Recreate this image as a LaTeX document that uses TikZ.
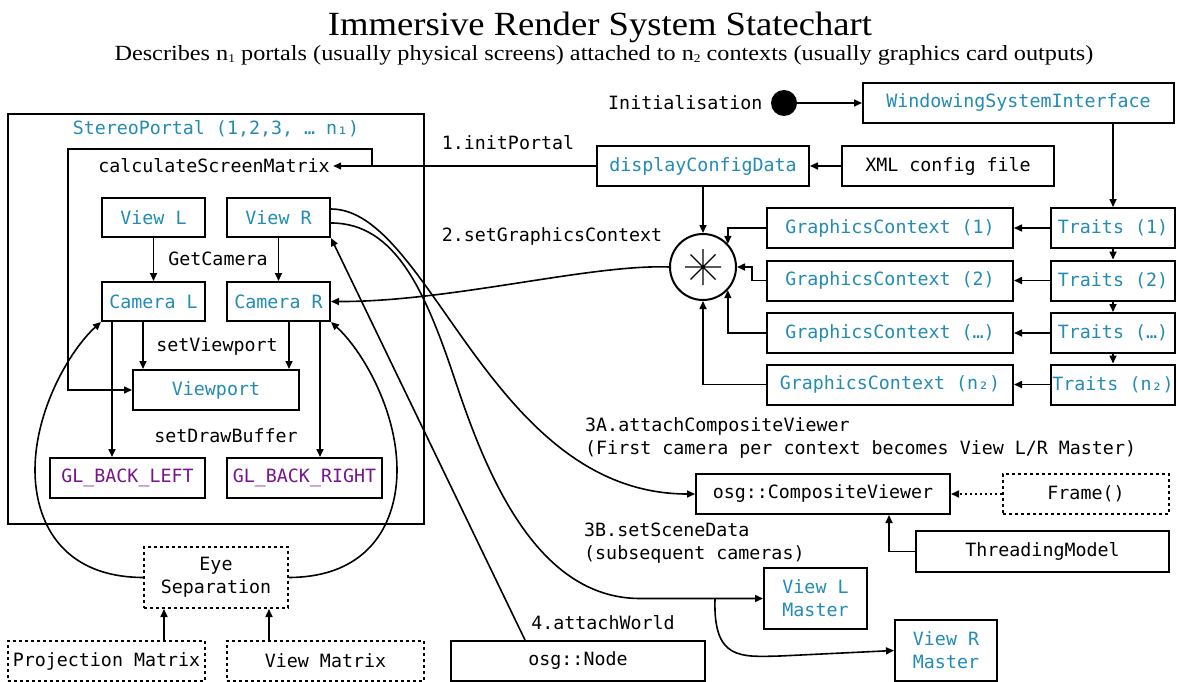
\documentclass[tikz,border=0pt]{standalone}
\usepackage{fontspec}
\setmainfont{Liberation Serif}
\setmonofont{DejaVu Sans Mono}
\usetikzlibrary{arrows.meta,calc}
\definecolor{clsblue}{RGB}{35,140,180}
\definecolor{bufpurple}{RGB}{120,20,140}
\newcommand{\lowidx}[1]{\raisebox{-1.5pt}{\fontsize{11}{11}\selectfont #1}}

\begin{document}
\begin{tikzpicture}[x=1pt,y=-1pt,
  font=\ttfamily\fontsize{18.3}{23}\selectfont,
  box/.style={draw, line width=2pt, inner sep=0pt, align=center},
  dbox/.style={box, dash pattern=on 3pt off 3pt},
  cls/.style={text=clsblue},
  buf/.style={text=bufpurple},
  link/.style={line width=1.6pt},
  arr/.style={link, -{Triangle[length=8pt,width=7pt]}},
]
\fill[white] (0,0) rectangle (1178,682);
\useasboundingbox (0,0) rectangle (1178,682);

% headings
\node[anchor=base, font=\rmfamily, inner sep=0pt] (title) at (600,36)
  {\resizebox{544pt}{23.5pt}{\fontsize{30}{30}\selectfont Immersive Render System Statechart}};
\node[anchor=base, font=\rmfamily, inner sep=0pt] (subtitle) at (604,61)
  {\resizebox{979pt}{15pt}{\fontsize{20}{20}\selectfont Describes n\lowidx{1} portals (usually physical screens) attached to n\lowidx{2} contexts (usually graphics card outputs)}};

% stereo portal
\node[box, minimum width=416pt, minimum height=410pt] (portal) at (216,319) {};
\node[cls] (portalname) at (216,129) {StereoPortal (1,2,3, … n₁)};
\node (calc) at (214,166) {calculateScreenMatrix};
\node[box, cls, minimum width=103pt, minimum height=39pt] (viewL) at (153.5,217.5) {View L};
\node[box, cls, minimum width=103pt, minimum height=39pt] (viewR) at (278.5,217.5) {View R};
\node (getcam) at (218,259) {GetCamera};
\node[box, cls, minimum width=103pt, minimum height=39pt] (camL) at (153.5,301.5) {Camera L};
\node[box, cls, minimum width=103pt, minimum height=39pt] (camR) at (278.5,301.5) {Camera R};
\node (setvp) at (217,346) {setViewport};
\node[box, cls, minimum width=166pt, minimum height=40pt] (vp) at (216,390) {Viewport};
\node (setdb) at (226,436) {setDrawBuffer};
\node[box, buf, minimum width=155pt, minimum height=40pt] (glL) at (127.5,478) {GL\_BACK\_LEFT};
\node[box, buf, minimum width=155pt, minimum height=40pt] (glR) at (304.5,478) {GL\_BACK\_RIGHT};

% eye separation inputs
\node[dbox, minimum width=144pt, minimum height=61pt] (eye) at (216,577.5) {Eye\\Separation};
\node[dbox, minimum width=197pt, minimum height=40pt] (proj) at (106.5,661) {Projection Matrix};
\node[dbox, minimum width=197pt, minimum height=40pt] (vmat) at (325.5,661) {View Matrix};

% initialisation and configuration
\node[anchor=east] (init) at (766,103) {Initialisation};
\node[circle, fill, minimum size=26pt, inner sep=0pt] (start) at (784,103) {};
\node[box, cls, minimum width=311pt, minimum height=40pt] (wsi) at (1018.5,103) {WindowingSystemInterface};
\node[box, minimum width=212pt, minimum height=40pt] (xml) at (948,166) {XML config file};
\node[box, cls, minimum width=212pt, minimum height=40pt] (dcd) at (703,166) {displayConfigData};
\node (l1) at (508,143) {1.initPortal};
\node (l2) at (552,236) {2.setGraphicsContext};

% context junction
\node[circle, draw, line width=2pt, minimum size=66pt, inner sep=0pt] (junction) at (703,267) {};
\draw[line width=1.4pt] (junction.center) +(-18,0) -- +(18,0)
  (junction.center) +(0,-18) -- +(0,18)
  (junction.center) +(-12.5,-12.5) -- +(12.5,12.5)
  (junction.center) +(-12.5,12.5) -- +(12.5,-12.5);

% graphics contexts and traits
\foreach \i/\y/\t in {1/228/1, 2/280.5/2, 3/333/…, 4/384.5/n₂} {
  \node[box, cls, minimum width=246pt, minimum height=40pt] (gc\i) at (890,\y) {GraphicsContext (\t)};
  \node[box, cls, minimum width=124pt, minimum height=40pt] (tr\i) at (1113,\y) {Traits (\t)};
  \draw[arr] (tr\i.west) -- (gc\i.east);
}

% viewer side
\node[box, minimum width=254pt, minimum height=40pt] (cv) at (823,494) {osg::CompositeViewer};
\node[dbox, minimum width=166pt, minimum height=40pt] (frame) at (1086,494) {Frame()};
\node[box, minimum width=253pt, minimum height=41pt] (tm) at (1042.5,551.5) {ThreadingModel};
\node[box, cls, minimum width=103pt, minimum height=61pt] (vlm) at (815.5,598.5) {View L\\Master};
\node[box, cls, minimum width=102pt, minimum height=61pt] (vrm) at (946,650.5) {View R\\Master};
\node[box, minimum width=254pt, minimum height=40pt] (osgnode) at (578,661) {osg::Node};
\node[anchor=west, align=left, inner sep=0pt] (l3a) at (585,438)
  {3A.attachCompositeViewer\\(First camera per context becomes View L/R Master)};
\node[anchor=west, align=left, inner sep=0pt] (l3b) at (584,543.5)
  {3B.setSceneData\\(subsequent cameras)};
\node (l4) at (603,623) {4.attachWorld};

% connectors: initialisation chain
\draw[arr] (start) -- (wsi.west);
\draw[arr] (xml.west) -- (dcd.east);
\draw[arr] (dcd.west) -- (calc.east);
\coordinate (cf) at (372,166);
\draw[arr] (cf) |- (68,149) |- (vp.west);
\draw[arr] (dcd.south) -- (junction.north);
\draw[arr] (tr1.north |- wsi.south) -- (tr1.north);
\draw[arr] (tr1.south) -- (tr2.north);
\draw[arr] (tr2.south) -- (tr3.north);
\draw[arr] (tr3.south) -- (tr4.north);
\draw[arr] (gc1.west) -| (junction.43);
\draw[arr] (gc2.west) -- ++(-14,0) |- (junction.east);
\draw[arr] (gc3.west) -| (junction.-43);
\draw[arr] (gc4.west) -| (junction.south);
\draw[arr] (junction.west) .. controls (590,264) and (450,302) .. (camR.east);

% connectors inside the portal
\draw[arr] (viewL.south) -- (camL.north);
\draw[arr] (viewR.south) -- (camR.north);
\draw[arr] ([xshift=-10.5pt]camL.south) -- ([xshift=-10.5pt]camL.south |- vp.north);
\draw[arr] ([xshift=-41.5pt]camL.south) -- ([xshift=-41.5pt]camL.south |- glL.north);
\draw[arr] ([xshift=10.5pt]camR.south) -- ([xshift=10.5pt]camR.south |- vp.north);
\draw[arr] ([xshift=41.5pt]camR.south) -- ([xshift=41.5pt]camR.south |- glR.north);

% eye separation
\draw[arr] ([xshift=57.5pt]proj.north) -- ([xshift=57.5pt]proj.north |- eye.south);
\draw[arr] ([xshift=-56.5pt]vmat.north) -- ([xshift=-56.5pt]vmat.north |- eye.south);
\draw[arr] (eye.west) .. controls (60,577) and (35,520) .. (35,470)
  .. controls (35,410) and (70,350) .. (camL.south west);
\draw[arr] (eye.east) .. controls (372,577) and (397,520) .. (397,470)
  .. controls (397,410) and (362,350) .. (camR.south east);

% viewer connectors
\draw[arr, dash pattern=on 2.5pt off 2.5pt] (frame.west) -- (cv.east);
\draw[arr] (tm.west) -| ([xshift=66pt]cv.south);
\draw[arr] ([yshift=8.5pt]viewR.east) .. controls (430,209) and (490,494) .. (cv.west);
\draw[arr] ([yshift=-5.5pt]viewR.east) .. controls (395,223) and (425,290) .. (455,380)
  .. controls (485,470) and (535,598.5) .. (640,598.5) -- (vlm.west);
\coordinate (split) at (715,598.5);
\draw[arr] (split) .. controls (713,660) and (740,657) .. (780,656) -- (vrm.west);
\draw[arr] ([xshift=-53pt]osgnode.north) -- (viewR.south east);
\end{tikzpicture}
\end{document}
